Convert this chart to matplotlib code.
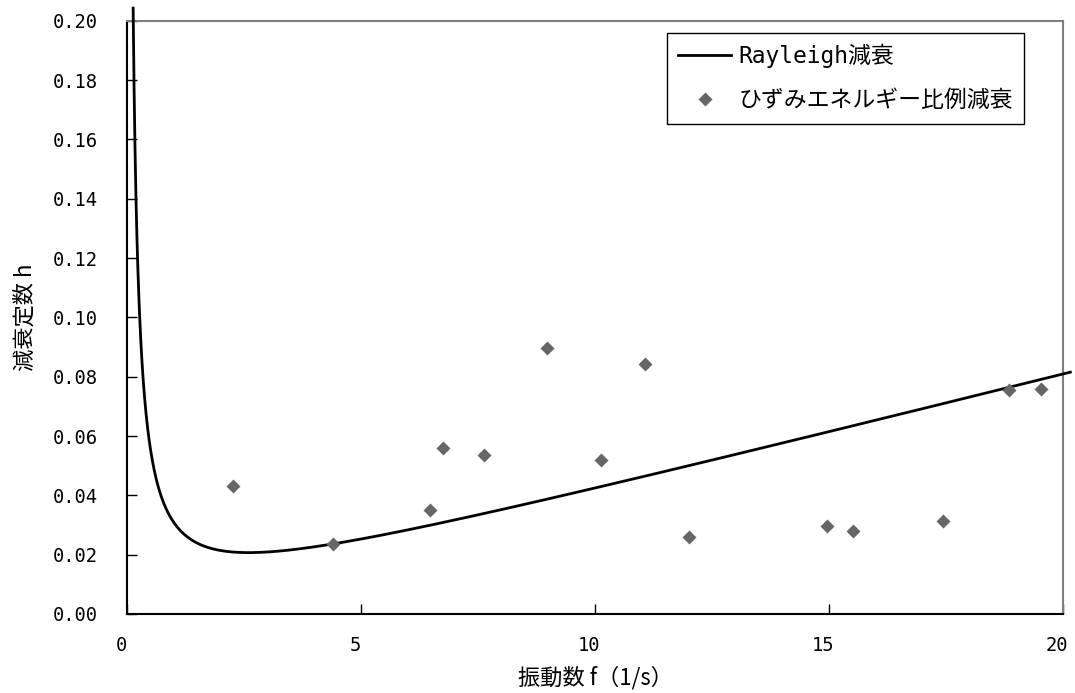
import matplotlib
matplotlib.use('Agg')
import matplotlib.pyplot as plt
import matplotlib.transforms as mtransforms
import numpy as np

# Rayleigh減衰の係数 (h = alpha/(2ω) + beta*ω/2, ω = 2πf)
alpha = 0.338
beta = 0.001267
f_min = 0.132
f_max = 20.15

# ひずみエネルギー比例減衰 (振動数, 減衰定数)
freq = [2.27, 4.41, 6.47, 6.75, 7.63, 8.97, 10.13, 11.07, 12.01,
        14.95, 15.50, 17.43, 18.85, 19.53]
damp = [0.0432, 0.0235, 0.0350, 0.0559, 0.0536, 0.0896, 0.0518, 0.0843, 0.0259,
        0.0297, 0.0279, 0.0315, 0.0755, 0.0759]

xticks = [0, 5, 10, 15, 20]
yticks = [0.00, 0.02, 0.04, 0.06, 0.08, 0.10, 0.12, 0.14, 0.16, 0.18, 0.20]

mono = ['DejaVu Sans Mono', 'Noto Sans CJK JP']
cjk = ['Noto Sans CJK JP', 'DejaVu Sans']

fig = plt.figure(figsize=(10.75, 6.93), dpi=100)
ax = fig.add_axes([0.1181, 0.114, 0.871, 0.856])

f = np.linspace(f_min, f_max, 2000)
w = 2 * np.pi * f
h = alpha / (2 * w) + beta * w / 2
ax.plot(f, h, color='black', lw=2, clip_on=False, label='Rayleigh減衰', zorder=3)
ax.plot(freq, damp, ls='none', marker='D', ms=7.5, color='#666666', mec='none',
        label='ひずみエネルギー比例減衰', zorder=4)

ax.set_xlim(0, 20)
ax.set_ylim(0, 0.2)
ax.set_xticks(xticks)
ax.set_yticks(yticks)
ax.set_yticklabels(['%.2f' % v for v in yticks])
ax.tick_params(direction='in', length=7, width=1, labelsize=13.5)
ax.tick_params(axis='y', pad=21)
ax.tick_params(axis='x', pad=16)
shift = mtransforms.ScaledTranslation(-6 / 100, 0, fig.dpi_scale_trans)
for lab in ax.get_xticklabels():
    lab.set_family(mono)
    lab.set_transform(lab.get_transform() + shift)
for lab in ax.get_yticklabels():
    lab.set_family(mono)

for s in ['left', 'bottom']:
    ax.spines[s].set_color('black')
    ax.spines[s].set_linewidth(1.5)
for s in ['top', 'right']:
    ax.spines[s].set_color('#808080')
    ax.spines[s].set_linewidth(1.5)

ax.set_xlabel('振動数 f（1/s）', family=cjk, fontsize=16, labelpad=8)
ax.set_ylabel('減衰定数 h', family=cjk, fontsize=16, labelpad=12)

leg = ax.legend(loc='upper left', bbox_to_anchor=(0.6205, 0.9528),
                bbox_transform=fig.transFigure, borderaxespad=0,
                prop={'family': mono, 'size': 16.5}, frameon=True, fancybox=False,
                framealpha=1, edgecolor='black', handlelength=2.3,
                handletextpad=0.3, labelspacing=0.9, borderpad=0.5)
leg.get_frame().set_linewidth(1)

fig.savefig('out.png', dpi=100)
